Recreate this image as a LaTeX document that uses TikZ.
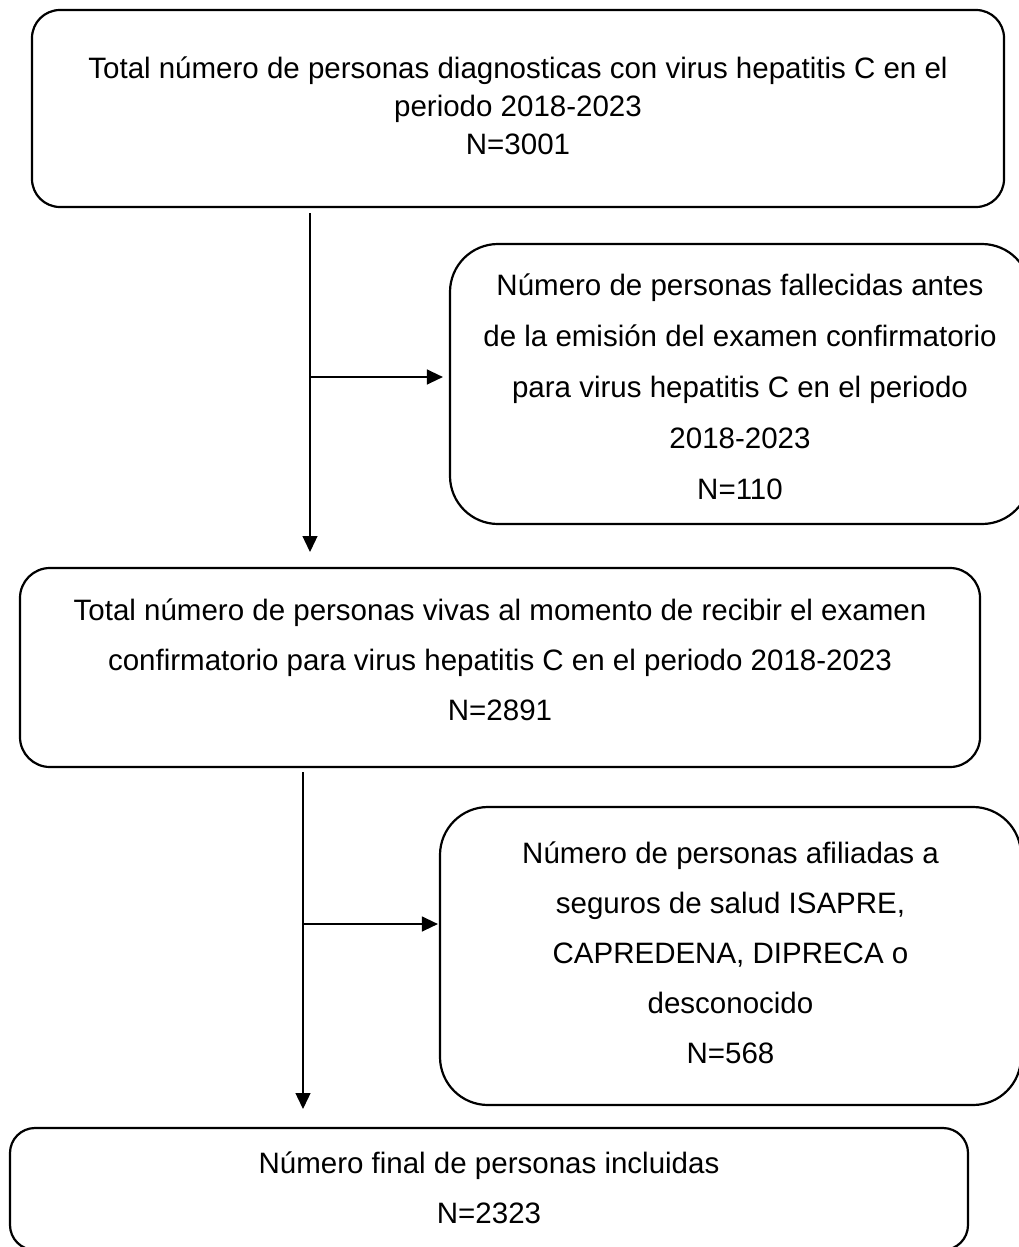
\documentclass[tikz,border=0pt]{standalone}
\usepackage{fontspec}
\setmainfont{Liberation Sans}
\usetikzlibrary{arrows.meta}
\begin{document}
\begin{tikzpicture}[x=1pt,y=-1pt,
  box/.style={draw, line width=2.2pt, inner sep=0pt},
  txt/.style={align=center, inner sep=0pt, font=\fontsize{29.5}{50}\selectfont},
  arr/.style={line width=1.3pt, -{Triangle[length=16pt,width=15pt]}}]
\useasboundingbox (0,0) rectangle (1019,1247);
\clip (0,0) rectangle (1019,1247);
\fill[white] (0,0) rectangle (1019,1247);

% boxes
\node[box, rounded corners=28pt, minimum width=972pt, minimum height=197pt] (b1) at (518,108.5) {};
\node[box, rounded corners=48pt, minimum width=580pt, minimum height=280pt] (b2) at (740,384) {};
\node[box, rounded corners=30pt, minimum width=960pt, minimum height=199pt] (b3) at (500,667.5) {};
\node[box, rounded corners=48pt, minimum width=581pt, minimum height=298pt] (b4) at (730.5,956) {};
\node[box, rounded corners=25pt, minimum width=958pt, minimum height=122pt] (b5) at (489,1189) {};

% texts
\node[txt, font=\fontsize{29.5}{38}\selectfont] (t1) at (518,106)
  {Total número de personas diagnosticas con virus hepatitis C en el\\
   periodo 2018-2023\\ N=3001};
\node[txt, font=\fontsize{29.5}{51}\selectfont] (t2) at (740,386.5)
  {Número de personas fallecidas antes\\
   de la emisión del examen confirmatorio\\
   para virus hepatitis C en el periodo\\
   2018-2023\\ N=110};
\node[txt] (t3) at (500,660)
  {Total número de personas vivas al momento de recibir el examen\\
   confirmatorio para virus hepatitis C en el periodo 2018-2023\\
   N=2891};
\node[txt] (t4) at (730.5,953)
  {Número de personas afiliadas a\\
   seguros de salud ISAPRE,\\
   CAPREDENA, DIPRECA o\\
   desconocido\\ N=568};
\node[txt] (t5) at (489,1188)
  {Número final de personas incluidas\\ N=2323};

% first branch
\coordinate (s1) at (310,213);
\coordinate (e1) at (310,552);
\coordinate (j1) at (310,377);
\draw[arr] (s1) -- (e1);
\draw[arr, shorten >=6pt] (j1) -- (j1 -| b2.west);

% second branch
\coordinate (s2) at (303,772);
\coordinate (e2) at (303,1109);
\coordinate (j2) at (303,924);
\draw[arr] (s2) -- (e2);
\draw[arr, shorten >=1pt] (j2) -- (j2 -| b4.west);
\end{tikzpicture}
\end{document}
